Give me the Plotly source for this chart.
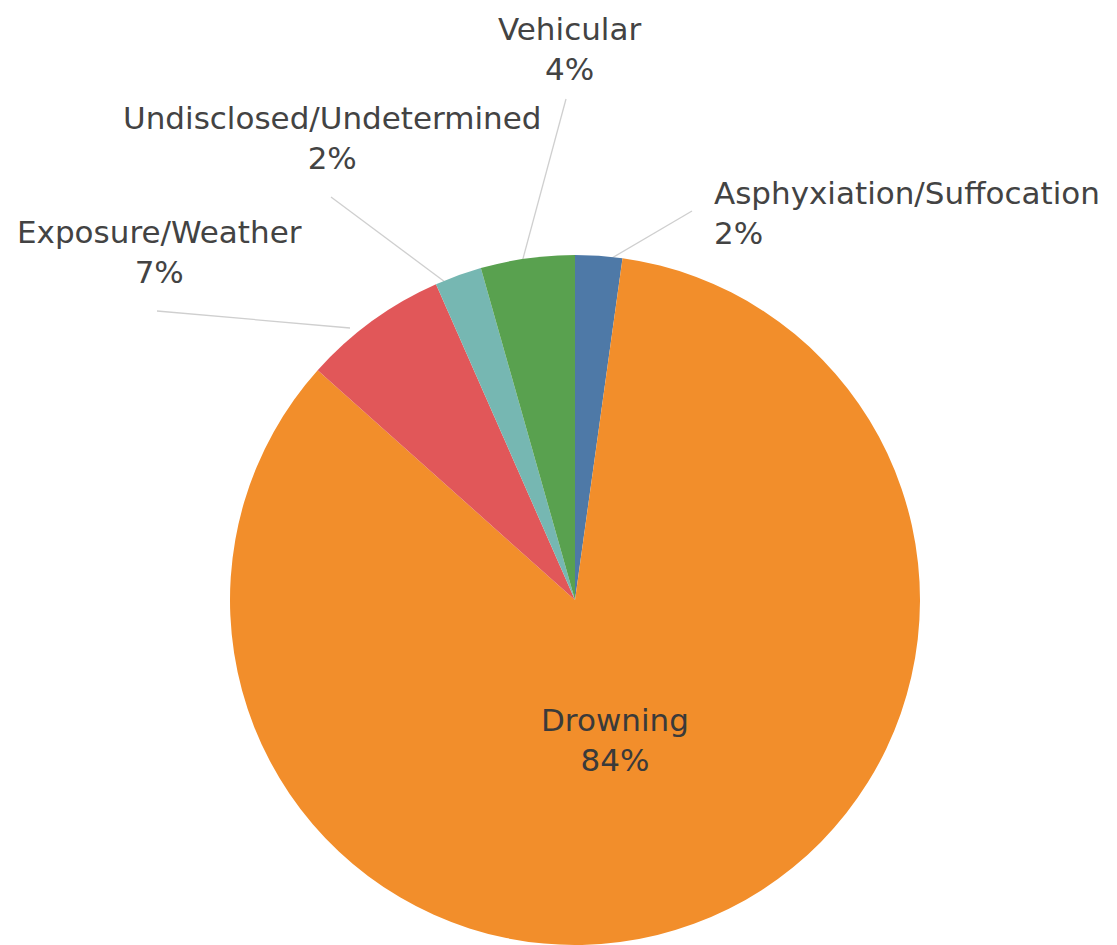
import plotly.graph_objects as go

labels = ["Asphyxiation/Suffocation", "Drowning", "Exposure/Weather",
          "Undisclosed/Undetermined", "Vehicular"]
values = [2.2, 84.4, 6.8, 2.2, 4.4]
colors = ["#4E79A7", "#F28E2B", "#E15759", "#76B7B2", "#59A14F"]

# the page body has an 8px margin; work in window pixels and shift
OFF = 8
W, H = 1117 - OFF, 945 - OFF
FONT = "DejaVu Sans"
total = sum(values)
pct = [f"{v / total * 100:.0f}%" for v in values]

R = 345
CX, CY = 575 - OFF, 600 - OFF

def px(x):
    return (x - OFF) / W

def py(y):
    return 1 - (y - OFF) / H

fig = go.Figure(go.Pie(
    labels=labels,
    values=values,
    sort=False,
    direction="clockwise",
    rotation=0,
    marker=dict(colors=colors, line=dict(width=0)),
    textinfo="none",
    hoverinfo="label+percent",
    domain=dict(x=[(CX - R) / W, (CX + R) / W], y=[0, 2 * R / H]),
    showlegend=False,
))

# outside label positions (window pixels) and leader lines
lab_pos = {
    "Asphyxiation/Suffocation": (712, 213, "left"),
    "Exposure/Weather": (159, 252, "center"),
    "Undisclosed/Undetermined": (332, 138, "center"),
    "Vehicular": (569, 49, "center"),
    "Drowning": (615, 740, "center"),
}
leaders = {
    "Asphyxiation/Suffocation": ((692, 211), (600, 265)),
    "Exposure/Weather": ((157, 311), (350, 328)),
    "Undisclosed/Undetermined": ((331, 197), (445, 282)),
    "Vehicular": ((566, 99), (521, 266)),
}

for lab, p in zip(labels, pct):
    x, y, al = lab_pos[lab]
    fig.add_annotation(
        x=px(x), y=py(y), xref="paper", yref="paper",
        text=f"{lab}<br>{p}", showarrow=False,
        xanchor=al, yanchor="middle", align=al,
        font=dict(family=FONT, size=31,
                  color="#3a3a3a" if lab == "Drowning" else "#434343"),
    )
    if lab in leaders:
        (x0, y0), (x1, y1) = leaders[lab]
        fig.add_shape(type="line", xref="paper", yref="paper",
                      x0=px(x0), y0=py(y0), x1=px(x1), y1=py(y1),
                      line=dict(color="#cfcfcf", width=1.3), layer="below")

fig.update_layout(
    width=W, height=H,
    margin=dict(l=0, r=0, t=0, b=0),
    paper_bgcolor="white",
    plot_bgcolor="white",
)

fig.write_html("out.html")
